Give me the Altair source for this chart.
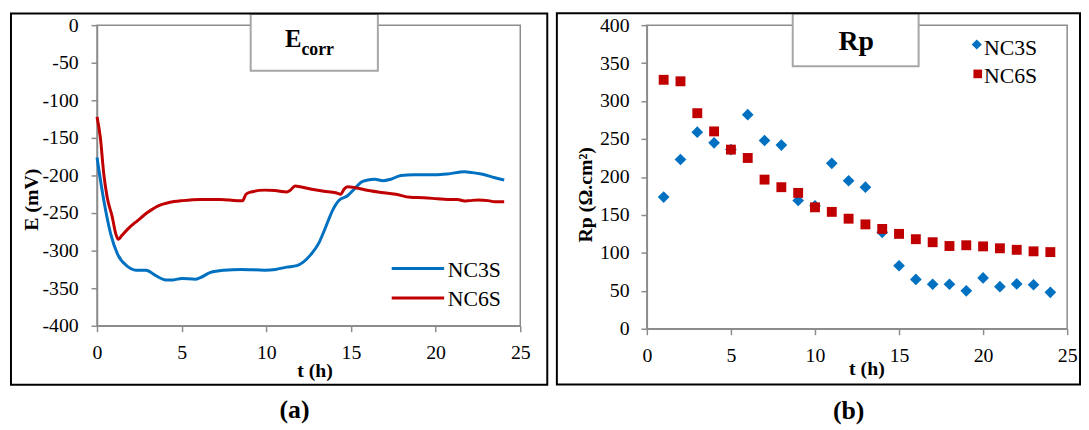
import altair as alt
import pandas as pd

FONT = "Liberation Serif"
AX = "#8C8C8C"
BOX = "#A6A6A6"

series_names = ["NC3S", "NC6S"]
series_colors = ["#0070C0", "#C00000"]
series_shapes = ["diamond", "square"]

# ---- (a) Ecorr vs time ----
t_nc3s = [0, 0.4, 0.8, 1.2, 1.8, 2.3, 2.9, 3.45, 4.06, 4.5, 5.0, 5.8, 6.1, 6.7, 7.5, 8.5, 9.9, 10.55,
          11.2, 11.8, 12.2, 12.6, 13.1, 13.5, 13.9, 14.3, 14.8, 15.2, 15.6, 16.0, 16.4, 16.9, 17.35,
          17.96, 18.7, 20.0, 20.7, 21.7, 22.1, 22.7, 23.5, 24.05]
e_nc3s = [-176, -233, -277, -304, -321, -326, -326, -333, -339, -339, -337, -338, -336, -329, -326,
          -325, -326, -325, -322, -320, -315, -306, -290, -269, -247, -233, -227, -218, -209, -206,
          -205, -207, -205, -200, -199, -199, -198, -195, -196, -198, -203, -206]
t_nc6s = [0, 0.2, 0.4, 0.6, 0.9, 1.1, 1.26, 1.46, 1.83, 2.4, 3.0, 3.65, 4.26, 5.07, 6.1, 7.3, 8.3,
          8.6, 8.8, 9.1, 9.9, 10.5, 11.2, 11.4, 11.7, 12.0, 12.6, 13.4, 14.1, 14.4, 14.6, 14.8, 15.2,
          15.8, 16.6, 17.65, 18.5, 19.3, 20.1, 20.7, 21.3, 21.7, 22.0, 22.5, 23.1, 23.5, 24.05]
e_nc6s = [-122, -150, -198, -229, -255, -277, -285, -280, -271, -260, -249, -240, -236, -233.5, -232,
          -232, -233.5, -233.5, -225, -222, -219.5, -220, -222, -220, -214, -215, -218, -221, -223,
          -225, -218, -215, -216, -219, -222, -225, -229, -229.6, -231, -232, -232, -234, -233.5,
          -232.6, -233.5, -235, -235]

# ---- (b) Rp vs time ----
rp_t = list(range(1, 25))
rp_nc3s = [173.5, 223, 259, 245, 236, 282, 248, 242, 169, 162, 218, 195, 186.5, 127, 83, 65, 58.6,
           58.6, 50, 67, 55.5, 59, 58, 48]
rp_nc6s = [328, 326, 284, 260, 236, 225, 196.5, 186.5, 179, 160, 154, 145, 137.5, 131.5, 125, 118,
           114, 109, 110, 108.5, 106, 104, 102, 101]

x_ticks = [0, 5, 10, 15, 20, 25]
e_ticks = list(range(-400, 1, 50))
rp_ticks = list(range(0, 401, 50))

one = pd.DataFrame({"k": [0]})
color_scale = alt.Scale(domain=series_names, range=series_colors)
PLAIN = "toString(datum.value)"


def box(x1, x2, y1, y2, **kw):
    return alt.Chart(one).mark_rect(**kw).encode(
        x=alt.value(x1), x2=alt.value(x2), y=alt.value(y1), y2=alt.value(y2))


def label(txt, x, y, size, bold=False, align="left", color="black"):
    return alt.Chart(one).mark_text(
        text=txt, font=FONT, fontSize=size, fontWeight="bold" if bold else "normal",
        align=align, baseline="alphabetic", color=color).encode(x=alt.value(x), y=alt.value(y))


# ----- left panel -----
WL, HL = 428, 304
e_df = pd.concat([
    pd.DataFrame({"t": t_nc3s, "E": e_nc3s, "series": series_names[0]}),
    pd.DataFrame({"t": t_nc6s, "E": e_nc6s, "series": series_names[1]}),
])
e_lines = alt.Chart(e_df).mark_line(strokeWidth=3, interpolate="monotone").encode(
    x=alt.X("t:Q", scale=alt.Scale(domain=[0, 25], nice=False),
            axis=alt.Axis(values=x_ticks, title="t (h)", labelFlush=False, labelPadding=11,
                          labelExpr=PLAIN,
                          titleX=220, titleY=51, titleBaseline="alphabetic", titleAlign="center")),
    y=alt.Y("E:Q", scale=alt.Scale(domain=[-400, 0], nice=False),
            axis=alt.Axis(values=e_ticks, title="E (mV)", labelPadding=13, labelExpr=PLAIN,
                          titleX=-60, titleY=176, titleBaseline="alphabetic", titleAlign="center",
                          titleAngle=270)),
    color=alt.Color("series:N", scale=color_scale, legend=None),
)
e_leg_lines = [
    alt.Chart(one).mark_rule(strokeWidth=3, color=series_colors[i]).encode(
        x=alt.value(298), x2=alt.value(351), y=alt.value(ly))
    for i, ly in enumerate([246, 276])
]
e_leg_text = [label(series_names[i], 354.6, ly, 22) for i, ly in enumerate([254.4, 284.4])]

left = alt.layer(
    box(0, WL, 0, HL, filled=False, stroke=AX, strokeWidth=1.5),
    e_lines,
    *e_leg_lines,
    *e_leg_text,
    box(155.4, 284, -11.3, 46, fill="white", stroke=BOX, strokeWidth=2),
    label("E", 206.7, 22, 25, bold=True, align="right"),
    label("corr", 206.7, 30.4, 18, bold=True, align="left"),
    box(-87, 455.3, -11.8, 363.7, filled=False, stroke="black", strokeWidth=2),
    label("(a)", 199.7, 397.7, 26, bold=True, align="center"),
).properties(width=WL, height=HL)

# ----- right panel -----
WR, HR = 425, 307
rp_df = pd.concat([
    pd.DataFrame({"t": rp_t, "Rp": rp_nc3s, "series": series_names[0]}),
    pd.DataFrame({"t": rp_t, "Rp": rp_nc6s, "series": series_names[1]}),
])
rp_points = alt.Chart(rp_df).mark_point(filled=True, opacity=1).encode(
    x=alt.X("t:Q", scale=alt.Scale(domain=[0, 25], nice=False),
            axis=alt.Axis(values=x_ticks, title="t (h)", labelFlush=False, labelPadding=11,
                          labelExpr=PLAIN,
                          titleX=222, titleY=46, titleBaseline="alphabetic", titleAlign="center")),
    y=alt.Y("Rp:Q", scale=alt.Scale(domain=[0, 400], nice=False),
            axis=alt.Axis(values=rp_ticks, title="Rp (Ω.cm²)", labelPadding=12, labelExpr=PLAIN,
                          titleX=-56, titleY=171, titleBaseline="alphabetic", titleAlign="center",
                          titleAngle=270)),
    color=alt.Color("series:N", scale=color_scale, legend=None),
    shape=alt.Shape("series:N", scale=alt.Scale(domain=series_names, range=series_shapes), legend=None),
    size=alt.Size("series:N", scale=alt.Scale(domain=series_names, range=[140, 100]), legend=None),
)
rp_leg_marks = [
    alt.Chart(one).mark_point(filled=True, opacity=1, shape=series_shapes[i], size=s,
                              color=series_colors[i]).encode(x=alt.value(lx), y=alt.value(ly))
    for i, (lx, ly, s) in enumerate([(333.6, 19.6, 105), (334.6, 49.3, 76)])
]
rp_leg_text = [label(series_names[i], 340.9, ly, 22) for i, ly in enumerate([30.6, 59])]

right = alt.layer(
    box(0, WR, 0, HR, filled=False, stroke=AX, strokeWidth=1.5),
    rp_points,
    *rp_leg_marks,
    *rp_leg_text,
    box(147.5, 274.8, -11.7, 41.6, fill="white", stroke=BOX, strokeWidth=2),
    label("Rp", 211.6, 25.6, 28, bold=True, align="center"),
    box(-91, 438, -12, 363.3, filled=False, stroke="black", strokeWidth=2),
    label("(b)", 204, 398, 26, bold=True, align="center"),
).properties(width=WR, height=HR)

chart = alt.hconcat(left, right, spacing=128, bounds="flush").resolve_scale(
    x="independent", y="independent"
).properties(
    padding={"left": 2, "top": 2, "right": 0, "bottom": 0}
).configure_view(stroke=None).configure_axis(
    labelFont=FONT, labelFontSize=20, labelColor="black",
    titleFont=FONT, titleFontSize=20, titleFontWeight="bold", titleColor="black",
    domainColor=AX, domainWidth=1.5, tickColor=AX, tickWidth=1.5, tickSize=6, grid=False,
)

chart.save("out.html", embed_options={"renderer": "svg", "actions": False})
